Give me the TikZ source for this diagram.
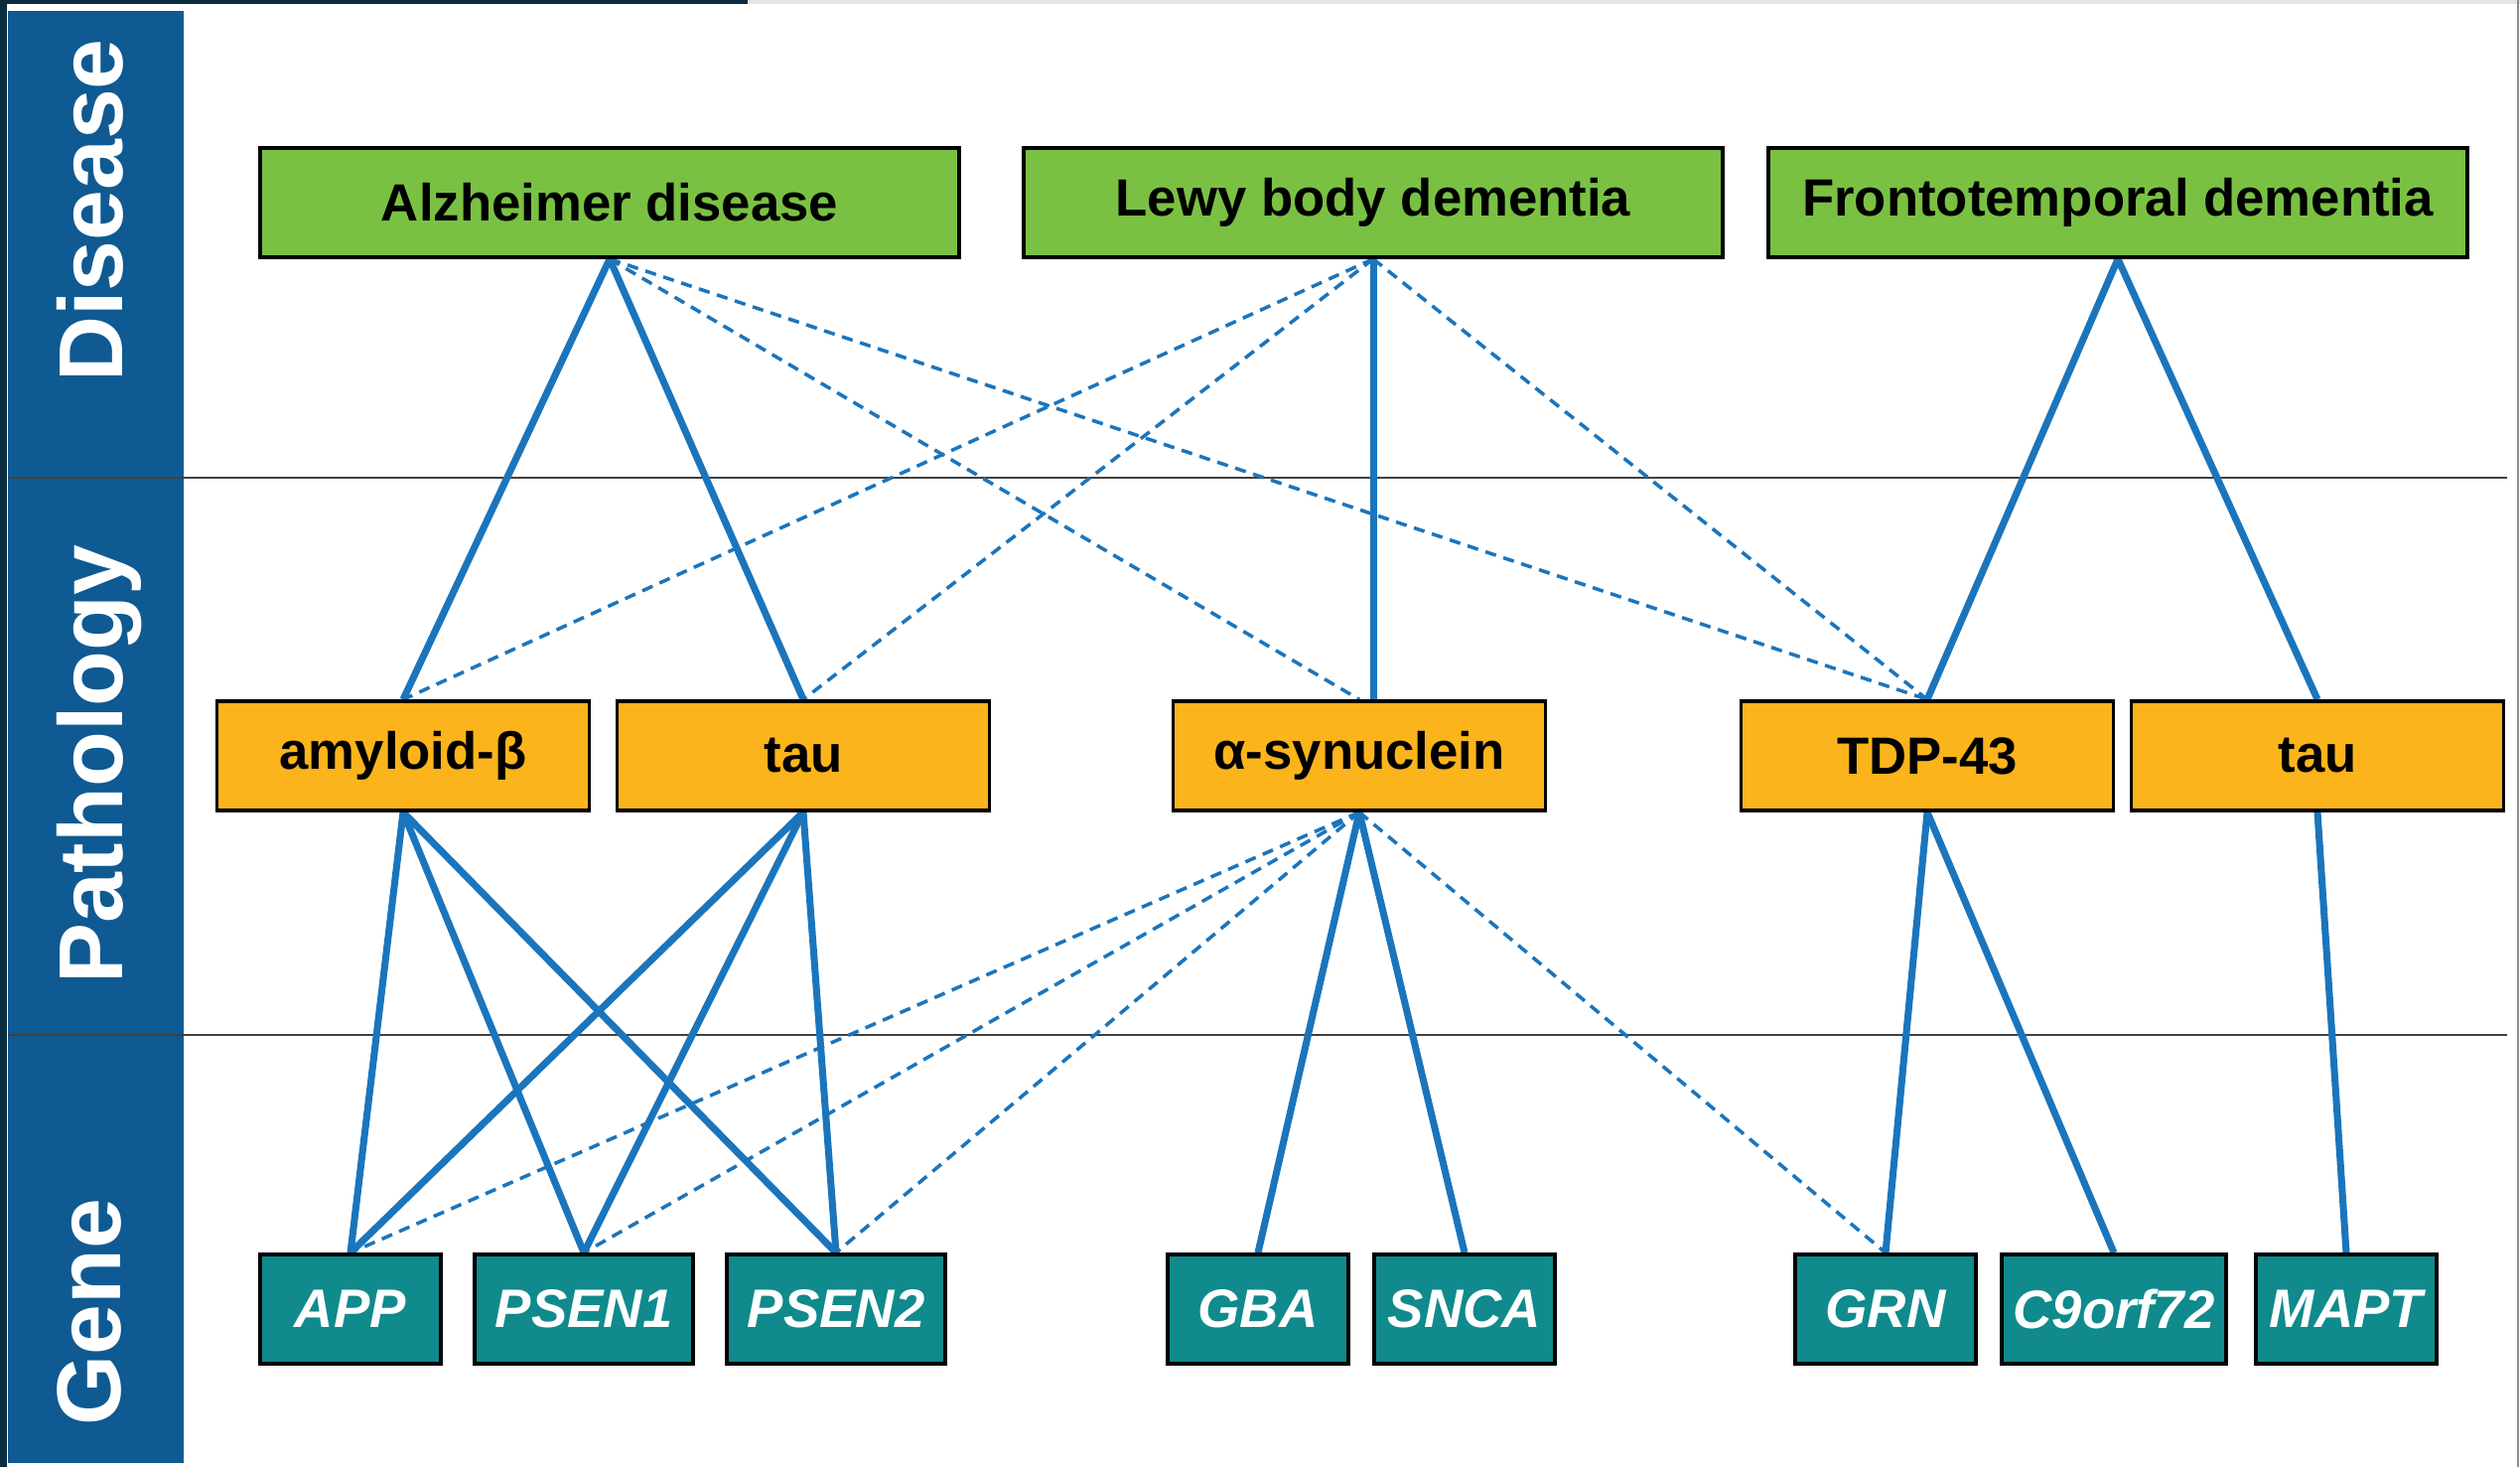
\documentclass[tikz,border=0pt]{standalone}
\usepackage{fontspec}
\setmainfont{Liberation Sans}
\usepackage{xcolor}
\pgfdeclarelayer{background}
\pgfdeclarelayer{foreground}
\pgfsetlayers{background,main,foreground}
\definecolor{dgreen}{HTML}{7AC143}
\definecolor{porange}{HTML}{FBB41C}
\definecolor{gteal}{HTML}{108A8C}
\definecolor{lblue}{HTML}{1B75BC}
\definecolor{sideblue}{HTML}{0F5A92}
\definecolor{navy}{HTML}{0B2B40}

\begin{document}
\begin{tikzpicture}[
  disease/.style={draw=black, line width=1pt, fill=dgreen, minimum width=7.04cm, minimum height=1.1cm, inner sep=0pt, font=\fontsize{15}{18}\selectfont\bfseries},
  patho/.style={disease, fill=porange, minimum width=3.75cm},
  gene/.style={draw=black, line width=1pt, fill=gteal, minimum width=1.82cm, minimum height=1.1cm, inner sep=0pt, text=white, font=\fontsize{15.5}{18}\selectfont\bfseries\itshape},
  side/.style={rotate=90, text=white, text depth=0pt, inner sep=0pt, font=\fontsize{26}{30}\selectfont\bfseries},
  link/.style={draw=lblue, line width=2pt},
  weak/.style={draw=lblue, line width=1pt, dash pattern=on 3.2pt off 2.2pt},
]

\useasboundingbox (0,0) rectangle (25.38,14.77);

\begin{pgfonlayer}{background}
\fill [white] (0,0) rectangle (25.38,14.77);
\fill [black!10] (0,14.73) rectangle (25.38,14.77);
\fill [navy] (0,14.73) rectangle (7.53,14.77);
\fill [navy] (0,0) rectangle (0.07,14.77);
\draw [black!45, line width=0.6pt] (25.36,0) -- (25.36,14.77);
\fill [sideblue] (0.08,0.04) rectangle (1.85,14.66);
\draw [black!75, line width=0.5pt] (0.08,9.96) -- (25.25,9.96);
\draw [black!75, line width=0.5pt] (0.08,4.35) -- (25.25,4.35);
\end{pgfonlayer}

%rows
\node [side] (sdis) at (0.90,12.65) {Disease};
\node [side] (spat) at (0.90,7.07) {Pathology};
\node [side] (sgen) at (0.90,1.56) {Gene};

\node [disease] (alz) at (6.14,12.73) {Alzheimer disease};
\node [disease] (lbd) at (13.83,12.73) {Lewy body dementia};
\node [disease] (ftd) at (21.33,12.73) {Frontotemporal dementia};

\node [patho] (abeta) at (4.06,7.16) {amyloid-β};
\node [patho] (tauA) at (8.09,7.16) {tau};
\node [patho] (asyn) at (13.69,7.16) {α-synuclein};
\node [patho] (tdp) at (19.41,7.16) {TDP-43};
\node [patho] (tauF) at (23.34,7.16) {tau};

\node [gene] (app) at (3.53,1.59) {APP};
\node [gene, minimum width=2.2cm] (psenA) at (5.88,1.59) {PSEN1};
\node [gene, minimum width=2.2cm] (psenB) at (8.42,1.59) {PSEN2};
\node [gene] (gba) at (12.67,1.59) {GBA};
\node [gene] (snca) at (14.75,1.59) {SNCA};
\node [gene] (grn) at (18.99,1.59) {GRN};
\node [gene, minimum width=2.26cm] (c9) at (21.29,1.59) {C9orf72};
\node [gene] (mapt) at (23.63,1.59) {MAPT};

%links
\begin{pgfonlayer}{background}
\draw [link] (alz.south) -- (abeta.north);
\draw [link] (alz.south) -- (tauA.north);
\draw [link] (lbd.south) -- (lbd.south |- asyn.north);
\draw [link] (ftd.south) -- (tdp.north);
\draw [link] (ftd.south) -- (tauF.north);
\draw [weak] (alz.south) -- (asyn.north);
\draw [weak] (alz.south) -- (tdp.north);
\draw [weak] (lbd.south) -- (abeta.north);
\draw [weak] (lbd.south) -- (tauA.north);
\draw [weak] (lbd.south) -- (tdp.north);

\draw [link] (abeta.south) -- (app.north);
\draw [link] (abeta.south) -- (psenA.north);
\draw [link] (abeta.south) -- (psenB.north);
\draw [link] (tauA.south) -- (app.north);
\draw [link] (tauA.south) -- (psenA.north);
\draw [link] (tauA.south) -- (psenB.north);
\draw [link] (asyn.south) -- (gba.north);
\draw [link] (asyn.south) -- (snca.north);
\draw [link] (tdp.south) -- (grn.north);
\draw [link] (tdp.south) -- (c9.north);
\draw [link] (tauF.south) -- (mapt.north);
\draw [weak] (asyn.south) -- (app.north);
\draw [weak] (asyn.south) -- (psenA.north);
\draw [weak] (asyn.south) -- (psenB.north);
\draw [weak] (asyn.south) -- (grn.north);
\end{pgfonlayer}

\end{tikzpicture}
\end{document}
